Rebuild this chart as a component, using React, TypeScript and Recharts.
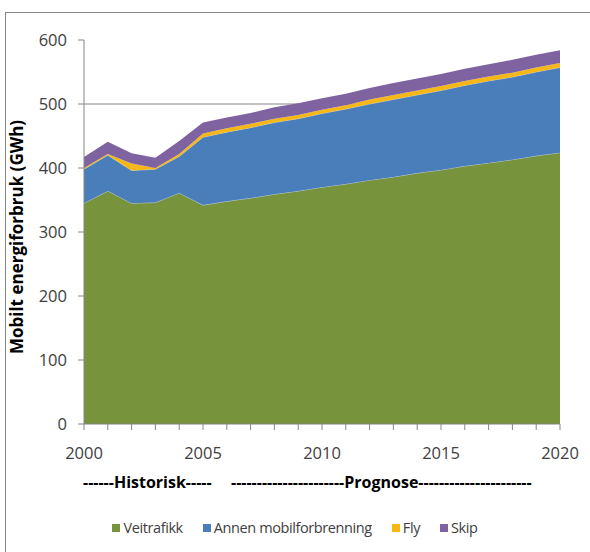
import React from 'react';
import { AreaChart, Area, XAxis, YAxis, CartesianGrid, Legend } from 'recharts';

// Years on the horizontal axis (historic 2000–2005, forecast 2006–2020)
const years = [
  2000, 2001, 2002, 2003, 2004, 2005, 2006, 2007, 2008, 2009, 2010,
  2011, 2012, 2013, 2014, 2015, 2016, 2017, 2018, 2019, 2020,
];

// Mobile energy use per source, GWh
const veitrafikk = [345, 364, 345, 346, 361, 342, 348, 353, 359, 364, 370, 375, 381, 386, 392, 397, 403, 408, 413, 419, 424];
const annenMobilforbrenning = [53, 56, 51, 52, 57, 106, 108, 110, 112, 113, 115, 117, 119, 121, 122, 124, 126, 128, 129, 131, 133];
const fly = [2, 2, 11, 2, 4, 6, 6, 6, 6, 6, 6, 6, 7, 7, 7, 7, 7, 7, 7, 7, 7];
const skip = [17, 19, 16, 16, 20, 17, 17, 17, 18, 18, 18, 18, 18, 19, 19, 19, 19, 19, 20, 20, 20];

const yTicks = [0, 100, 200, 300, 400, 500, 600];
const gridValues = [100, 200, 300, 400, 500];
const labelledYears = [2000, 2005, 2010, 2015, 2020];

const seriesKeys = ['veitrafikk', 'annen', 'fly', 'skip'] as const;
const seriesNames: Record<string, string> = {
  veitrafikk: 'Veitrafikk',
  annen: 'Annen mobilforbrenning',
  fly: 'Fly',
  skip: 'Skip',
};

const data = years.map((year, i) => ({
  year,
  veitrafikk: veitrafikk[i],
  annen: annenMobilforbrenning[i],
  fly: fly[i],
  skip: skip[i],
}));

const FONT = '"Open Sans", "Noto Sans", sans-serif';
const AXIS_GREY = '#868686';
const TEXT_GREY = '#404040';

const COLORS: Record<string, string> = {
  veitrafikk: '#77933C',
  annen: '#4A7EBB',
  fly: '#F6B818',
  skip: '#7F63A1',
};

// Legend in series order with solid square swatches
const renderLegend = () => (
  <div
    style={{
      display: 'flex',
      justifyContent: 'center',
      alignItems: 'center',
      fontFamily: FONT,
      fontSize: 14.5,
      letterSpacing: -0.4,
      color: TEXT_GREY,
      paddingLeft: 20,
    }}
  >
    {seriesKeys.map((key) => (
      <span
        key={key}
        style={{ display: 'inline-flex', alignItems: 'center', marginRight: 20 }}
      >
        <span
          style={{
            display: 'inline-block',
            width: 8,
            height: 8,
            background: COLORS[key],
            marginRight: 3,
          }}
        />
        {seriesNames[key]}
      </span>
    ))}
  </div>
);

export default function App() {
  return (
    <div
      style={{
        position: 'absolute',
        left: 0,
        top: 0,
        width: 590,
        height: 552,
        background: '#fff',
        overflow: 'hidden',
      }}
    >
      {/* chart frame */}
      <div
        style={{
          position: 'absolute',
          left: 5,
          top: 12,
          width: 600,
          height: 560,
          borderLeft: `1px solid ${AXIS_GREY}`,
          borderTop: `1px solid ${AXIS_GREY}`,
        }}
      />
      <div style={{ position: 'absolute', left: 0, top: 0 }}>
        <AreaChart
          width={590}
          height={552}
          data={data}
          margin={{ top: 40, right: 30, left: 24, bottom: 98 }}
        >
          <CartesianGrid
            vertical={false}
            horizontalValues={gridValues}
            stroke={AXIS_GREY}
          />
          <XAxis
            dataKey="year"
            type="number"
            domain={[2000, 2020]}
            ticks={years}
            interval={0}
            tickFormatter={(v: number) => (labelledYears.includes(v) ? String(v) : '')}
            tickSize={6}
            tickMargin={17}
            stroke={AXIS_GREY}
            tick={{ fill: TEXT_GREY, fontSize: 16.5, fontFamily: FONT }}
            height={30}
          />
          <YAxis
            domain={[0, 600]}
            ticks={yTicks}
            interval={0}
            tickSize={6}
            tickMargin={11}
            stroke={AXIS_GREY}
            tick={{ fill: TEXT_GREY, fontSize: 16.5, fontFamily: FONT }}
            width={60}
          />
          <Area
            type="linear"
            dataKey="veitrafikk"
            name={seriesNames.veitrafikk}
            stackId="1"
            fill={COLORS.veitrafikk}
            fillOpacity={1}
            stroke="#c3d0dc"
            strokeWidth={0.8}
            isAnimationActive={false}
          />
          <Area
            type="linear"
            dataKey="annen"
            name={seriesNames.annen}
            stackId="1"
            fill={COLORS.annen}
            fillOpacity={1}
            stroke="#c3d0dc"
            strokeWidth={0.6}
            isAnimationActive={false}
          />
          <Area
            type="linear"
            dataKey="fly"
            name={seriesNames.fly}
            stackId="1"
            fill={COLORS.fly}
            fillOpacity={1}
            stroke="none"
            isAnimationActive={false}
          />
          <Area
            type="linear"
            dataKey="skip"
            name={seriesNames.skip}
            stackId="1"
            fill={COLORS.skip}
            fillOpacity={1}
            stroke="none"
            isAnimationActive={false}
          />
          <Legend
            layout="horizontal"
            verticalAlign="middle"
            align="center"
            content={renderLegend}
            wrapperStyle={{ top: 518, left: 0, width: 590 }}
          />
        </AreaChart>
      </div>

      {/* vertical axis title */}
      <div
        style={{
          position: 'absolute',
          left: 16,
          top: 237,
          transform: 'translate(-50%, -50%) rotate(-90deg)',
          whiteSpace: 'nowrap',
          fontFamily: FONT,
          fontWeight: 700,
          fontSize: 17,
          color: '#000',
        }}
      >
        Mobilt energiforbruk (GWh)
      </div>

      {/* period captions under the year axis */}
      <div
        style={{
          position: 'absolute',
          left: 83,
          top: 471,
          whiteSpace: 'nowrap',
          fontFamily: FONT,
          fontWeight: 700,
          fontSize: 16,
          color: '#000',
        }}
      >
        ------Historisk-----
      </div>
      <div
        style={{
          position: 'absolute',
          left: 231,
          top: 471,
          whiteSpace: 'nowrap',
          fontFamily: FONT,
          fontWeight: 700,
          fontSize: 16,
          color: '#000',
        }}
      >
        ----------------------Prognose----------------------
      </div>
    </div>
  );
}
